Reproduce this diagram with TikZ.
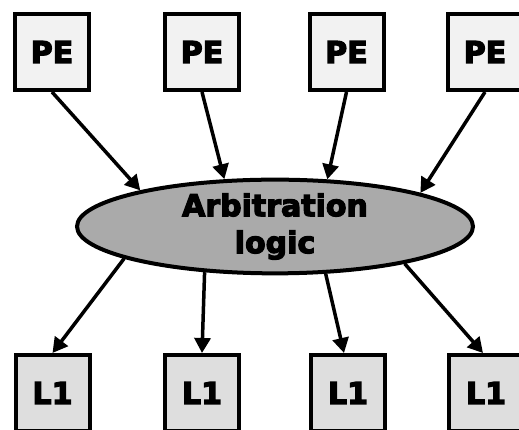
\documentclass[tikz,border=0pt]{standalone}
\usepackage{fontspec}
\setmainfont{DejaVu Sans}[BoldFeatures={FakeBold=4}]
\usetikzlibrary{shapes.geometric,arrows.meta}
\definecolor{peFill}{HTML}{F2F2F2}
\definecolor{lFill}{HTML}{DEDEDE}
\definecolor{arbFill}{HTML}{AAAAAA}
\begin{document}
\begin{tikzpicture}[x=1pt,y=1pt,
  unitbox/.style={draw=black,line width=4pt,minimum width=74pt,minimum height=76pt,
    inner sep=0pt,font=\fontsize{30}{36}\selectfont\bfseries},
  pebox/.style={unitbox,fill=peFill},
  lbox/.style={unitbox,fill=lFill},
  link/.style={line width=3.5pt,-{Triangle[length=15pt,width=16pt]}}]
\useasboundingbox (0,0) rectangle (519,430);
\clip (0,0) rectangle (519,430);
% processing elements
\node[pebox] (pe1) at (52,378) {PE};
\node[pebox] (pe2) at (202,378) {PE};
\node[pebox] (pe3) at (346.5,378) {PE};
\node[pebox] (pe4) at (485,378) {PE};
% shared arbiter
\node[ellipse,draw=black,line width=4pt,fill=arbFill,minimum width=396pt,minimum height=83pt,
  inner sep=0pt,align=center,font=\fontsize{30}{37}\selectfont\bfseries] (arb) at (275,203.5)
  {Arbitration\\logic};
% level-1 caches
\node[lbox] (l1) at (52.5,37) {L1};
\node[lbox] (l2) at (202,37) {L1};
\node[lbox] (l3) at (348,37) {L1};
\node[lbox] (l4) at (486,37) {L1};
% requests into the arbiter
\draw[link] (pe1.south) -- (arb.165.3);
\draw[link] (pe2.south) -- (arb.137.8);
\draw[link] (pe3.south) -- (arb.42.2);
\draw[link] (pe4.south) -- (arb.13.3);
% grants out to the caches
\draw[link] (arb.192.1) -- (l1.north);
\draw[link] (arb.213.8) -- (l2.north);
\draw[link] (arb.317.8) -- ([xshift=-4pt]l3.north);
\draw[link] (arb.344.9) -- ([xshift=-3pt]l4.north);
\end{tikzpicture}
\end{document}
